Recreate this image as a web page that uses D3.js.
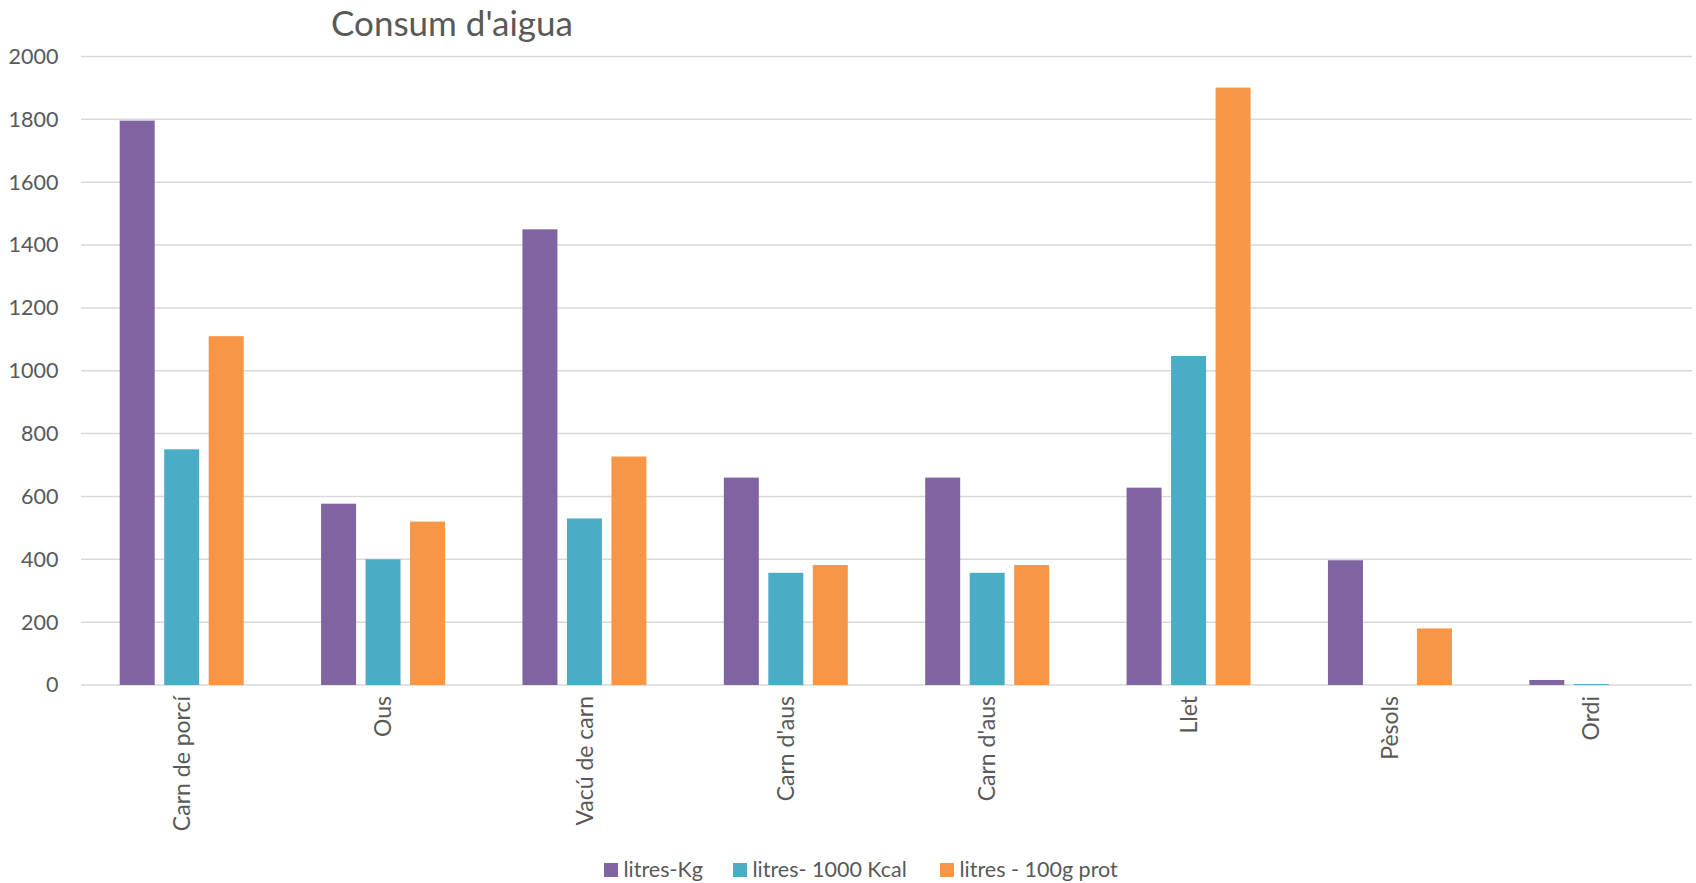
<!DOCTYPE html>
<html>
<head>
<meta charset="utf-8">
<script src="https://cdn.jsdelivr.net/npm/d3@7"></script>
<style>
  html, body { margin: 0; padding: 0; background: #fff; }
  svg { display: block; font-family: Lato, "Open Sans", sans-serif; }
</style>
</head>
<body>
<svg id="chart" width="1696" height="883"></svg>
<script>
const title = "Consum d'aigua";
const categories = ["Carn de porcí", "Ous", "Vacú de carn", "Carn d'aus", "Carn d'aus", "Llet", "Pèsols", "Ordi"];
const seriesNames = ["litres-Kg", "litres- 1000 Kcal", "litres - 100g prot"];
const litresKg = [1796, 577, 1450, 660, 660, 628, 397, 16];
const litres1000Kcal = [750, 400, 530, 357, 357, 1047, 0, 3];
const litres100gProt = [1110, 520, 727, 382, 382, 1901, 180, 0];
const yTicks = [0, 200, 400, 600, 800, 1000, 1200, 1400, 1600, 1800, 2000];
const colors = ["#8064A2", "#4BACC6", "#F79646"];

const seriesValues = [litresKg, litres1000Kcal, litres100gProt];
const rows = categories.map((c, i) => ({ idx: i, cat: c, vals: seriesValues.map(s => s[i]) }));

const svg = d3.select("#chart");
const pLeft = 81, pRight = 1692, pTop = 56.5, pBottom = 685;
const textColor = "#595959";

const x = d3.scaleBand().domain(d3.range(categories.length)).range([pLeft, pRight]).padding(0);
const y = d3.scaleLinear().domain([0, 2000]).range([pBottom, pTop]);
const groupW = x.bandwidth() * 0.6157;
const x1 = d3.scaleBand().domain(d3.range(3)).range([0, groupW]).paddingInner(0.2135).paddingOuter(0);

// gridlines
svg.append("g").selectAll("line").data(yTicks).join("line")
  .attr("x1", pLeft).attr("x2", pRight)
  .attr("y1", d => y(d)).attr("y2", d => y(d))
  .attr("stroke", "#D9D9D9").attr("stroke-width", 1.5);

// y axis labels
const yAxis = d3.axisLeft(y).tickValues(yTicks).tickFormat(d3.format("d")).tickSize(0).tickPadding(0);
const ya = svg.append("g").attr("transform", `translate(58.5,0)`).call(yAxis);
ya.select(".domain").remove();
ya.selectAll("text").attr("fill", textColor).style("font-size", "21.5px").style("font-family", "Lato, sans-serif");

// bars
const groups = svg.append("g").selectAll("g").data(rows).join("g")
  .attr("transform", d => `translate(${x(d.idx) + (x.bandwidth() - groupW) / 2},0)`);
groups.selectAll("rect").data(d => d.vals.map((v, i) => ({ v, i }))).join("rect")
  .attr("x", d => x1(d.i))
  .attr("width", x1.bandwidth())
  .attr("y", d => y(d.v))
  .attr("height", d => y(0) - y(d.v))
  .attr("fill", d => colors[d.i]);

// x axis labels (rotated)
const xAxis = d3.axisBottom(x).tickSize(0).tickPadding(0).tickFormat(i => categories[i]);
const xa = svg.append("g").attr("transform", `translate(0,${pBottom})`).call(xAxis);
xa.select(".domain").remove();
xa.selectAll("text")
  .attr("fill", textColor)
  .style("font-size", "23px").style("font-family", "Lato, sans-serif")
  .attr("transform", "rotate(-90)")
  .attr("text-anchor", "end")
  .attr("x", -11).attr("y", 0).attr("dy", "0.35em");

// title
svg.append("text").attr("x", 452).attr("y", 36).attr("text-anchor", "middle")
  .attr("fill", textColor).style("font-size", "35px").text(title);

// legend
const legendX = [604, 733, 940];
const leg = svg.append("g").selectAll("g").data(seriesNames).join("g")
  .attr("transform", (d, i) => `translate(${legendX[i]},0)`);
leg.append("rect").attr("x", 0).attr("y", 863).attr("width", 14).attr("height", 14)
  .attr("fill", (d, i) => colors[i]);
leg.append("text").attr("x", 19.5).attr("y", 877).attr("fill", textColor)
  .style("font-size", "21.5px").text(d => d);
</script>
</body>
</html>
